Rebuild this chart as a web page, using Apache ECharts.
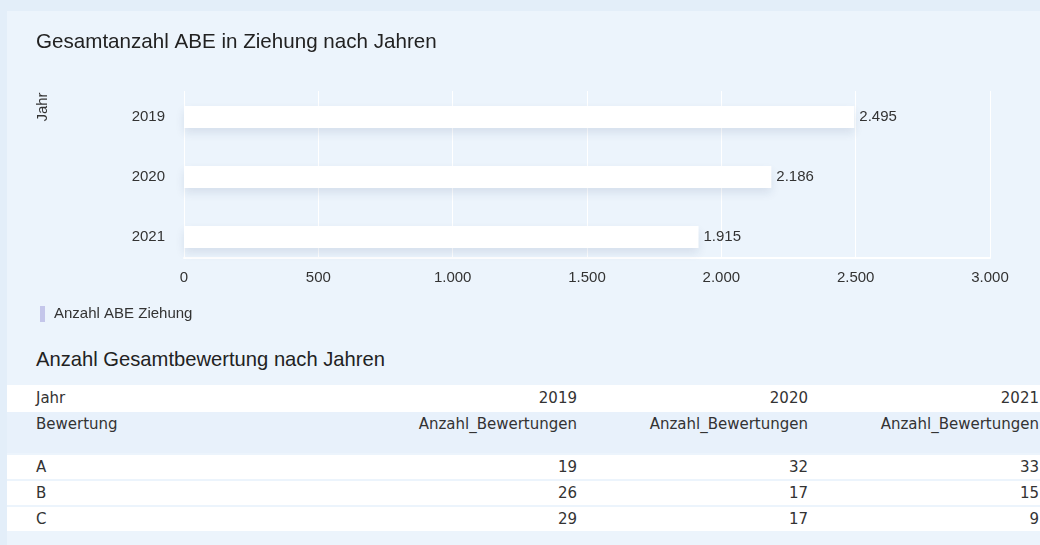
<!DOCTYPE html>
<html>
<head>
<meta charset="utf-8">
<script src="https://cdn.jsdelivr.net/npm/echarts@6/dist/echarts.min.js"></script>
<style>
  html, body { margin: 0; padding: 0; width: 1040px; height: 545px; overflow: hidden; background: #e3eef9; }
  #panel { position: absolute; left: 7px; top: 11px; width: 1100px; height: 540px; background: #ecf4fc; }
  #chart { position: absolute; left: 0; top: 0; width: 1040px; height: 340px; }
  #title2 { position: absolute; left: 36px; top: 348px; font: 20.2px "Liberation Sans", Arial, sans-serif; color: #222; white-space: nowrap; }
  #table { position: absolute; left: 7px; top: 385px; width: 1100px; font: 15px "DejaVu Sans", sans-serif; color: #333; }
  .row { display: flex; background: #fff; height: 24px; line-height: 24px; margin-top: 2px; }
  .row.jahr { height: 27px; line-height: 27px; margin-top: 0; }
  .row.head { height: 41px; line-height: 24px; margin-top: 0; background: #e8f1fb; }
  .cell0 { width: 310px; padding-left: 29px; white-space: nowrap; }
  .cell { width: 231px; text-align: right; white-space: nowrap; }
</style>
</head>
<body>
<div id="panel"></div>
<div id="chart"></div>
<div id="title2"></div>
<div id="table"></div>
<script>
// chart data
const years = ['2019', '2020', '2021'];
const abeCounts = [2495, 2186, 1915];
const seriesName = 'Anzahl ABE Ziehung';
const chartTitle = 'Gesamtanzahl ABE in Ziehung nach Jahren';
const axisName = 'Jahr';

// table data
const tableTitle = 'Anzahl Gesamtbewertung nach Jahren';
const grades = ['A', 'B', 'C'];
const ratings2019 = [19, 26, 29];
const ratings2020 = [32, 17, 17];
const ratings2021 = [33, 15, 9];
const valueHeader = 'Anzahl_Bewertungen';

const fmt = n => String(n).replace(/\B(?=(\d{3})+(?!\d))/g, '.');
const font = '"Liberation Sans", Arial, sans-serif';

var chart = echarts.init(document.getElementById('chart'));
chart.setOption({
  animation: false,
  textStyle: { fontFamily: font },
  title: {
    text: chartTitle,
    left: 36,
    top: 32,
    padding: 0,
    textStyle: { fontSize: 20.6, fontWeight: 'normal', color: '#222', fontFamily: font }
  },
  legend: {
    left: 40,
    top: 306,
    padding: 0,
    icon: 'rect',
    itemWidth: 5,
    itemHeight: 16,
    selectedMode: false,
    textStyle: { fontSize: 15, color: '#333', padding: [0, 0, 0, 4] },
    data: [{ name: seriesName, itemStyle: { color: '#c4c6ea' } }]
  },
  grid: [
    { left: 184, right: 50, top: 91, height: 167 },
    { left: 184, right: 50, top: 87, height: 180 }
  ],
  xAxis: [
    {
      gridIndex: 0, type: 'value', min: 0, max: 3000, interval: 500,
      axisLine: { show: true, lineStyle: { color: '#ffffff', width: 2 } },
      axisTick: { show: false },
      axisLabel: { fontSize: 15, color: '#333', margin: 12, formatter: fmt },
      splitLine: { lineStyle: { color: '#ffffff', width: 1 } }
    },
    {
      gridIndex: 1, type: 'value', min: 0, max: 3000, show: false,
      splitLine: { show: false }
    }
  ],
  yAxis: [
    {
      gridIndex: 0, type: 'category', data: years, inverse: true, show: false
    },
    {
      gridIndex: 1, type: 'category', data: years, inverse: true,
      axisLine: { show: false },
      axisTick: { show: false },
      axisLabel: { fontSize: 15, color: '#333', margin: 19 }
    }
  ],
  graphic: [{
    type: 'text',
    x: 43, y: 107,
    rotation: Math.PI / 2,
    style: { text: axisName, font: '15px ' + font, fill: '#333', align: 'center', verticalAlign: 'middle' }
  }],
  series: [{
    name: seriesName,
    type: 'bar',
    xAxisIndex: 1,
    yAxisIndex: 1,
    data: abeCounts,
    barWidth: 22,
    itemStyle: {
      color: '#ffffff',
      shadowColor: 'rgba(20, 50, 100, 0.10)',
      shadowBlur: 10,
      shadowOffsetY: 5
    },
    label: {
      show: true,
      position: 'right',
      distance: 5,
      fontSize: 15,
      color: '#333',
      formatter: p => fmt(p.value)
    }
  }]
});

// table
document.getElementById('title2').textContent = tableTitle;
const cols = [ratings2019, ratings2020, ratings2021];
let html = '<div class="row jahr"><div class="cell0">Jahr</div>' +
  years.map(y => '<div class="cell">' + y + '</div>').join('') + '</div>';
html += '<div class="row head"><div class="cell0">Bewertung</div>' +
  years.map(() => '<div class="cell">' + valueHeader + '</div>').join('') + '</div>';
grades.forEach((g, i) => {
  html += '<div class="row"><div class="cell0">' + g + '</div>' +
    cols.map(c => '<div class="cell">' + c[i] + '</div>').join('') + '</div>';
});
document.getElementById('table').innerHTML = html;
</script>
</body>
</html>
